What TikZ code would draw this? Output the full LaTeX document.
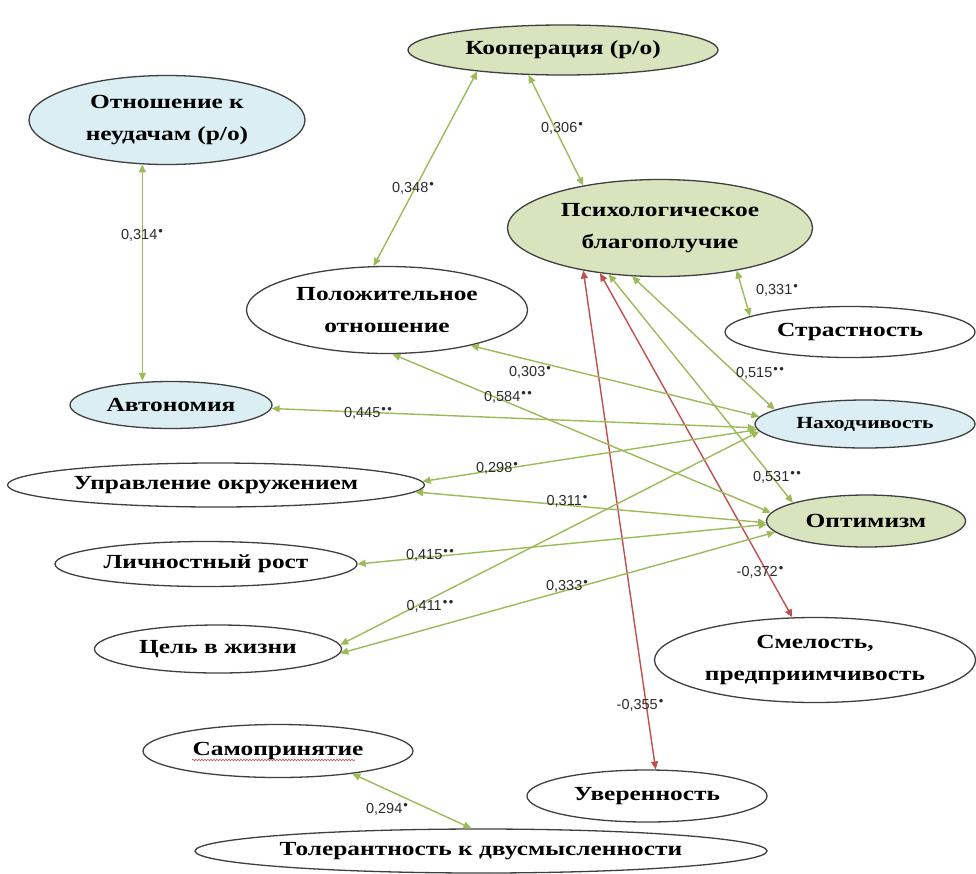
\documentclass[tikz,border=0pt]{standalone}
\usepackage{fontspec}
\setmainfont{Liberation Serif}[FakeStretch=1.27]
\setsansfont{Liberation Sans}
\usetikzlibrary{arrows.meta,shapes.geometric,decorations.pathmorphing}
\definecolor{greenfill}{HTML}{D7E4BD}
\definecolor{bluefill}{HTML}{DAEEF3}
\definecolor{arrgreen}{HTML}{9BBB59}
\definecolor{arrred}{HTML}{C0504D}
\definecolor{bordercol}{HTML}{3F3F3F}
\definecolor{labelcol}{HTML}{2B2B2B}
\newcommand{\sg}{\kern1pt\raisebox{0.45ex}{\fontsize{13}{13}\selectfont •}}
\newcommand{\sgg}{\kern1pt\raisebox{0.45ex}{\fontsize{13}{13}\selectfont •\kern1.5pt•}}
\tikzset{
  ell/.style={ellipse, draw=bordercol, line width=1.3pt, inner sep=0pt, align=center,
    font=\fontsize{20}{32}\selectfont\bfseries},
  gfill/.style={fill=greenfill},
  bfill/.style={fill=bluefill},
  wfill/.style={fill=white},
  garr/.style={draw=arrgreen, line width=1.4pt,
    {Triangle[length=8pt,width=7pt]}-{Triangle[length=8pt,width=7pt]}},
  rarr/.style={draw=arrred, line width=1.4pt,
    {Triangle[length=8pt,width=7pt]}-{Triangle[length=8pt,width=7pt]}},
  lbl/.style={font=\sffamily\fontsize{14.5}{15}\selectfont, text=labelcol, inner sep=0pt}
}
\begin{document}
\begin{tikzpicture}[x=1pt,y=-1pt]
\fill[white] (0,0) rectangle (976,873);
\useasboundingbox (0,0) rectangle (976,873);

% nodes
\node[ell, gfill, minimum width=310pt, minimum height=50pt] (koop) at (563,50) {Кооперация (р/о)};
\node[ell, bfill, minimum width=276pt, minimum height=89pt] (neud) at (167,120) {Отношение к\\неудачам (р/о)};
\node[ell, gfill, minimum width=305pt, minimum height=97pt] (pb) at (660,228) {Психологическое\\благополучие};
\node[ell, wfill, minimum width=281pt, minimum height=87pt] (pol) at (387,310) {Положительное\\отношение};
\node[ell, wfill, minimum width=250pt, minimum height=51pt] (strast) at (850,332) {Страстность};
\node[ell, bfill, minimum width=202pt, minimum height=47pt] (avt) at (171,405) {Автономия};
\node[ell, bfill, minimum width=220pt, minimum height=48pt, font=\fontsize{17}{22}\selectfont\bfseries] (nah) at (865,424) {Находчивость};
\node[ell, wfill, minimum width=417pt, minimum height=44pt] (upr) at (216,485) {Управление окружением};
\node[ell, gfill, minimum width=199pt, minimum height=52pt] (opt) at (866,521) {Оптимизм};
\node[ell, wfill, minimum width=302pt, minimum height=45pt] (lich) at (206,564) {Личностный рост};
\node[ell, wfill, minimum width=247pt, minimum height=48pt] (cel) at (218,649) {Цель в жизни};
\node[ell, wfill, minimum width=321pt, minimum height=85pt] (smel) at (815,660) {Смелость,\\предприимчивость};
\node[ell, wfill, minimum width=270pt, minimum height=53pt] (samo) at (278,751) {Самопринятие};
\node[ell, wfill, minimum width=240pt, minimum height=52pt] (uver) at (647,796) {Уверенность};
\node[ell, wfill, minimum width=572pt, minimum height=44pt] (tol) at (481,851) {Толерантность к двусмысленности};

% spell-check underline
\draw[arrred, line width=0.6pt, decorate, decoration={snake, amplitude=0.8pt, segment length=3pt}]
  ([xshift=-86pt,yshift=-9pt]samo.center) -- ([xshift=77pt,yshift=-9pt]samo.center);

% connectors
\draw[garr] (neud.241.3) -- (neud.241.3 |- avt.north);
\draw[garr] (koop.194.2) -- (pol.107.9);
\draw[garr] (koop.216.5) -- (pb.151.4);
\draw[garr] (pb.331.9) -- (strast.171.8);
\draw[garr] (pb.240.5) -- (nah.171.8);
\draw[garr] (pb.222.5) -- (opt.166.8);
\draw[rarr] (pb.217.7) -- (smel.118.6);
\draw[rarr] (pb.209.4) -- (uver.72.8);
\draw[garr] (pol.337.1) -- (nah.176.8);
\draw[garr] (pol.277.9) -- (opt.175.2);
\draw[garr] (avt.358.9) -- (nah.182.1);
\draw[garr] (upr.1.4) -- (nah.183.2);
\draw[garr] (upr.358.9) -- (opt.181.0);
\draw[garr] (lich.0.4) -- (opt.182.0);
\draw[garr] (cel.2.9) -- (nah.184.0);
\draw[garr] (cel.358.6) -- (opt.187.0);
\draw[garr] (samo.343.3) -- (tol.113.9);

% labels
\node[lbl] (l314) at (142,235) {0,314\sg};
\node[lbl] (l348) at (413,188) {0,348\sg};
\node[lbl] (l306) at (562,128) {0,306\sg};
\node[lbl] (l331) at (777,290) {0,331\sg};
\node[lbl] (l515) at (760,373) {0,515\sgg};
\node[lbl] (l303) at (530,372) {0,303\sg};
\node[lbl] (l584) at (508,397) {0,584\sgg};
\node[lbl] (l445) at (368,413) {0,445\sgg};
\node[lbl] (l298) at (497,468) {0,298\sg};
\node[lbl] (l311) at (567,501) {0,311\sg};
\node[lbl] (l531) at (777,477) {0,531\sgg};
\node[lbl] (l415) at (430,555) {0,415\sgg};
\node[lbl] (l372) at (760,572) {-0,372\sg};
\node[lbl] (l333) at (567,586) {0,333\sg};
\node[lbl] (l411) at (430,606) {0,411\sgg};
\node[lbl] (l355) at (640,705) {-0,355\sg};
\node[lbl] (l294) at (387,809) {0,294\sg};
\end{tikzpicture}
\end{document}
